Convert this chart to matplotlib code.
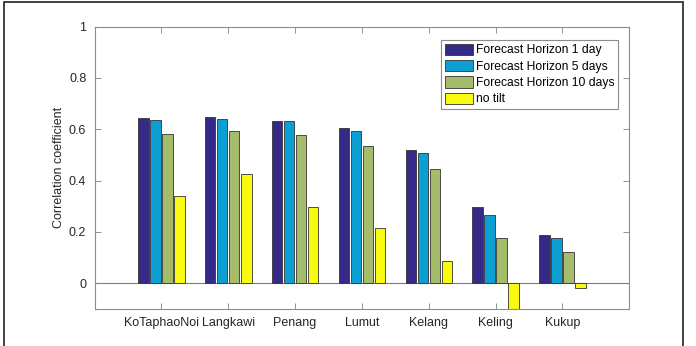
import matplotlib.pyplot as plt
import numpy as np
from matplotlib.patches import Rectangle

plt.rcParams['font.family'] = ['Liberation Sans', 'DejaVu Sans']

stations = ["KoTaphaoNoi", "Langkawi", "Penang", "Lumut", "Kelang", "Keling", "Kukup"]
horizon_1 = [0.644, 0.647, 0.634, 0.605, 0.519, 0.298, 0.189]
horizon_5 = [0.636, 0.642, 0.633, 0.595, 0.507, 0.268, 0.176]
horizon_10 = [0.582, 0.594, 0.578, 0.536, 0.446, 0.176, 0.122]
no_tilt = [0.342, 0.426, 0.298, 0.217, 0.085, -0.15, -0.017]

series = [horizon_1, horizon_5, horizon_10, no_tilt]
labels = ["Forecast Horizon 1 day", "Forecast Horizon 5 days",
          "Forecast Horizon 10 days", "no tilt"]
colors = ["#352a87", "#0b9fd4", "#a5bd6a", "#f8fb10"]
offsets = [-0.27, -0.09, 0.09, 0.27]

fig = plt.figure(figsize=(6.96, 3.46), dpi=100)
ax = fig.add_axes([0.136, 0.107, 0.768, 0.816])
x = np.arange(1, len(stations) + 1)
for vals, lab, col, off in zip(series, labels, colors, offsets):
    ax.bar(x + off, vals, width=0.155, color=col, edgecolor="#333333",
           linewidth=0.6, label=lab, zorder=2)
ax.axhline(0, color="#7f7f7f", linewidth=0.8, zorder=1)

ax.set_xlim(0, 8)
ax.set_ylim(-0.1, 1)
ax.set_xticks(x)
ax.set_xticklabels(stations)
ax.set_yticks([0, 0.2, 0.4, 0.6, 0.8, 1])
ax.set_yticklabels(["0", "0.2", "0.4", "0.6", "0.8", "1"])
ax.set_ylabel("Correlation coefficient", fontsize=9, color="#262626", labelpad=3)
ax.tick_params(direction="in", top=True, right=True, length=4, width=0.6,
               color="#7f7f7f", labelsize=9, labelcolor="#262626", pad=6)
for s in ax.spines.values():
    s.set_color("#8c8c8c")
    s.set_linewidth(0.8)

leg = ax.legend(loc="upper right", bbox_to_anchor=(618 / 696, 1 - 40 / 346),
                bbox_transform=fig.transFigure, fontsize=8.7, fancybox=False,
                framealpha=1, edgecolor="#8c8c8c", handlelength=2.3,
                handleheight=1.05, handletextpad=0.25, labelspacing=0.3,
                borderpad=0.3, borderaxespad=0)
leg.get_frame().set_linewidth(0.8)

fig.patches.append(Rectangle((4 / 696, -0.05), 679 / 696, 1.05 - 2 / 346,
                             transform=fig.transFigure, fill=False,
                             edgecolor="#222222", linewidth=1.2))
fig.savefig("out.png", dpi=100)
